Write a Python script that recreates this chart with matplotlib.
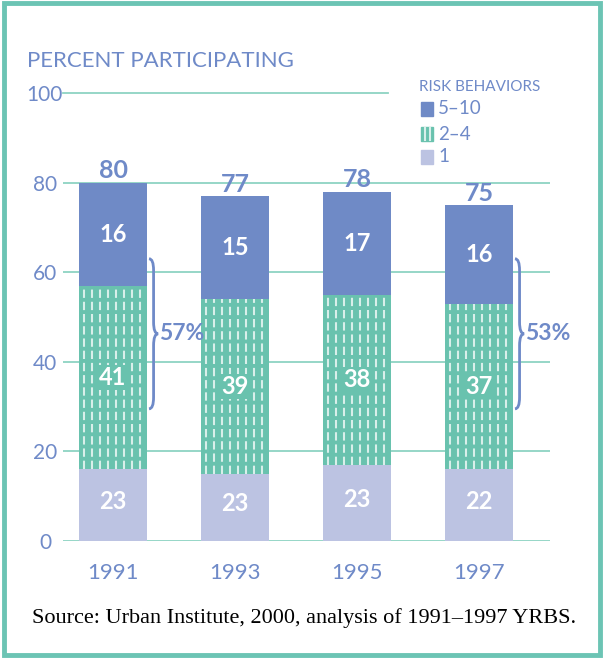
import matplotlib.pyplot as plt
from matplotlib.path import Path
from matplotlib.patches import PathPatch, Rectangle

plt.rcParams['font.family'] = ['Lato', 'DejaVu Sans']
plt.rcParams['lines.scale_dashes'] = False

years = ['1991', '1993', '1995', '1997']
# values printed in the chart
one = [23, 23, 23, 22]
two_four = [41, 39, 38, 37]
five_ten = [16, 15, 17, 16]
totals = [80, 77, 78, 75]
# the original draws the "1" and "5-10" heights swapped; keep that look
bottom_h = five_ten
top_h = one
brackets = {0: '57%', 3: '53%'}
yticks = [0, 20, 40, 60, 80, 100]

dark = '#6f8ac6'
green = '#69c2ae'
light = '#bcc3e2'
txt = '#6f8ac8'
grid = '#8ed3c3'

fig = plt.figure(figsize=(6.04, 6.58), dpi=100)
ax = fig.add_axes([63 / 604, 1 - 541 / 658, 487 / 604, 448 / 658])
x = range(len(years))
w = 0.55

# gridlines
for t in yticks[:-1]:
    ax.axhline(t, color=grid, lw=1.3, zorder=0)
ax.plot([-0.41, 2.25], [100, 100], color=grid, lw=1.3, zorder=0, clip_on=False)

mid_bottom = bottom_h
mid_top = [b + m for b, m in zip(bottom_h, two_four)]
ax.bar(x, bottom_h, w, color=light, zorder=2)
ax.bar(x, two_four, w, bottom=bottom_h, color=green, zorder=2)
ax.bar(x, top_h, w, bottom=mid_top, color=dark, zorder=2)

# dashed white stripes on the 2-4 segment
for i in x:
    for k in range(8):
        xs = i - w / 2 + (5 + 8 * k) / 122
        ax.plot([xs, xs], [mid_bottom[i], mid_top[i]], color='white', alpha=0.75,
                lw=1.5, ls=(0, (6, 2.8)), solid_capstyle='butt', zorder=3)

for i in x:
    ax.text(i, totals[i] + 2.6, str(totals[i]), ha='center', va='center',
            color=txt, fontsize=18, fontweight='bold')
    ax.text(i, mid_top[i] + top_h[i] / 2, str(five_ten[i]), ha='center', va='center',
            color='white', fontsize=17, fontweight='bold', zorder=4)
    ax.text(i, bottom_h[i] + two_four[i] / 2, str(two_four[i]), ha='center', va='center',
            color='white', fontsize=17, fontweight='bold', zorder=4,
            bbox=dict(facecolor=green, edgecolor='none', pad=1))
    ax.text(i, bottom_h[i] / 2 + 0.8, str(one[i]), ha='center', va='center',
            color='white', fontsize=17, fontweight='bold', zorder=4)


def brace(xa, yt, yb, wd=0.075, h=2.6):
    xb = xa + wd / 2
    xc = xa + wd
    ym = (yt + yb) / 2
    verts = [(xa, yt), (xb, yt), (xb, yt - h), (xb, ym + h), (xb, ym), (xc, ym),
             (xb, ym), (xb, ym - h), (xb, yb + h), (xb, yb), (xa, yb)]
    codes = [Path.MOVETO, Path.CURVE3, Path.CURVE3, Path.LINETO, Path.CURVE3, Path.CURVE3,
             Path.CURVE3, Path.CURVE3, Path.LINETO, Path.CURVE3, Path.CURVE3]
    ax.add_patch(PathPatch(Path(verts, codes), fill=False, edgecolor=txt, lw=2,
                           clip_on=False, zorder=4))
    return xc, ym


for i, lab in brackets.items():
    xc, ym = brace(i + 0.295, 63, 29.5)
    ax.text(xc + 0.005, ym, lab, ha='left', va='center', color=txt,
            fontsize=16.5, fontweight='bold')

ax.set_xlim(-0.41, 3.582)
ax.set_ylim(0, 100)
ax.set_xticks(list(x))
ax.set_xticklabels(years, fontsize=16, color=txt)
ax.set_yticks(yticks)
ax.set_yticklabels([str(t) for t in yticks], fontsize=15, color=txt, ha='center')
ax.tick_params(axis='y', length=0, pad=13)
ax.tick_params(axis='x', length=0, pad=16)
for s in ax.spines.values():
    s.set_visible(False)

fig.text(27 / 604, 1 - 61 / 658, 'PERCENT PARTICIPATING', color=txt, fontsize=16,
         va='center', ha='left')

# legend
fig.text(419 / 604, 1 - 87 / 658, 'RISK BEHAVIORS', color=txt, fontsize=11,
         va='center', ha='left')
leg = [('5–10', dark, 109), ('2–4', green, 134), ('1', light, 157)]
for lab, c, yc in leg:
    fig.patches.append(Rectangle((421 / 604, 1 - (yc + 7) / 658), 12 / 604, 14 / 658,
                                 transform=fig.transFigure, color=c))
    fig.text(438 / 604, 1 - yc / 658, lab, color=txt, fontsize=13.5, va='center', ha='left')
for xs in (425, 430):
    fig.lines.append(plt.Line2D([xs / 604, xs / 604], [1 - 140 / 658, 1 - 128 / 658],
                                transform=fig.transFigure, color='white', alpha=0.75, lw=1.5))

fig.text(304 / 604, 1 - 618 / 658, 'Source: Urban Institute, 2000, analysis of 1991–1997 YRBS.',
         family=['Liberation Serif'], fontsize=16, color='black', ha='center', va='center')

fig.patches.append(Rectangle((0.006, 0.005), 0.988, 0.99, transform=fig.transFigure,
                             fill=False, edgecolor='#6cc4b4', lw=3.5))

fig.savefig('out.png', dpi=100)
